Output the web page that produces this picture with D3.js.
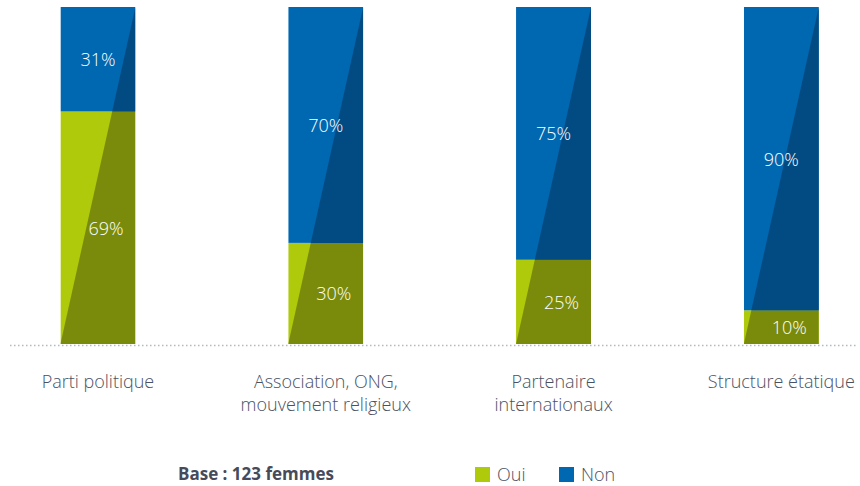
<!DOCTYPE html>
<html>
<head>
<meta charset="utf-8">
<script src="https://cdn.jsdelivr.net/npm/d3@7"></script>
<style>
  html, body { margin: 0; padding: 0; background: #ffffff; }
  svg { display: block; font-family: "Open Sans", "Noto Sans", sans-serif; }
</style>
</head>
<body>
<svg id="chart" width="860" height="486"></svg>
<script>
// Categories (each line of a label is its own entry)
const categories = [
  ["Parti politique"],
  ["Association, ONG,", "mouvement religieux"],
  ["Partenaire", "internationaux"],
  ["Structure étatique"]
];
const oui = [69, 30, 25, 10];
const non = [31, 70, 75, 90];
const seriesNames = ["Oui", "Non"];
const baseNote = "Base : 123 femmes";

const colors = {
  Oui: { light: "#afca0b", dark: "#7a8b0b" },
  Non: { light: "#0067b1", dark: "#014a82" }
};

const svg = d3.select("#chart");
const plotTop = 7, plotBottom = 344;

const x = d3.scaleBand()
  .domain(d3.range(categories.length))
  .range([3.5, 875.8])
  .paddingInner(0.6708)
  .paddingOuter(0.25);

const y = d3.scaleLinear().domain([0, 100]).range([plotBottom, plotTop]);

const rows = categories.map((c, i) => ({ i, oui: oui[i], non: non[i] }));
const stack = d3.stack().keys(["oui", "non"])(rows);

const g = svg.append("g");
const bw = x.bandwidth();

// Clip each bar so the diagonal shade stays inside it
const defs = svg.append("defs");
rows.forEach(r => {
  defs.append("clipPath").attr("id", "clip" + r.i)
    .append("rect")
    .attr("x", x(r.i)).attr("y", y(100))
    .attr("width", bw).attr("height", y(0) - y(100));
});

stack.forEach((layer, li) => {
  const name = seriesNames[li];
  layer.forEach((d, i) => {
    const x0 = x(i), y0 = y(d[1]), h = y(d[0]) - y(d[1]);
    const bar = g.append("g").attr("clip-path", `url(#clip${i})`);
    bar.append("rect")
      .attr("x", x0).attr("y", y0).attr("width", bw).attr("height", h)
      .attr("fill", colors[name].light);
    // Darker part to the right of the bar's diagonal (bottom-left to top-right)
    const yTop = y(100), yBot = y(0);
    const xAt = yy => x0 + bw * (yBot - yy) / (yBot - yTop);
    const ya = y0, yb = y0 + h;
    bar.append("path")
      .attr("d", `M${xAt(ya)},${ya} L${x0 + bw},${ya} L${x0 + bw},${yb} L${xAt(yb)},${yb} Z`)
      .attr("fill", colors[name].dark);
    // Value label
    const val = d[1] - d[0];
    g.append("text")
      .attr("x", x0 + bw / 2 + (name === "Oui" ? 8 : 0))
      .attr("y", y0 + h / 2 + 7)
      .attr("text-anchor", "middle")
      .attr("fill", "#ffffff")
      .attr("font-size", 18)
      .attr("font-weight", 300)
      .text(val + "%");
  });
});

// Dotted baseline
svg.append("line")
  .attr("x1", 10).attr("x2", 858)
  .attr("y1", plotBottom + 1.5).attr("y2", plotBottom + 1.5)
  .attr("stroke", "#b5b8bd").attr("stroke-width", 1.5)
  .attr("stroke-dasharray", "1.5,2.5");

// Category labels
categories.forEach((lines, i) => {
  const t = svg.append("text")
    .attr("x", x(i) + bw / 2)
    .attr("y", 388)
    .attr("text-anchor", "middle")
    .attr("fill", "#4a5163")
    .attr("font-size", 18)
    .attr("font-weight", 300);
  lines.forEach((ln, k) => {
    t.append("tspan").attr("x", x(i) + bw / 2).attr("dy", k === 0 ? 0 : 23).text(ln);
  });
});

// Footer note and legend
svg.append("text")
  .attr("x", 178).attr("y", 480)
  .attr("fill", "#464b5b")
  .attr("font-size", 17)
  .attr("font-weight", 700)
  .text(baseNote);

const legendX = [475, 559];
seriesNames.forEach((n, k) => {
  svg.append("rect")
    .attr("x", legendX[k]).attr("y", 467)
    .attr("width", 15).attr("height", 15)
    .attr("fill", colors[n].light);
  svg.append("text")
    .attr("x", legendX[k] + 22).attr("y", 481)
    .attr("fill", "#4a5163")
    .attr("font-size", 18)
    .attr("font-weight", 300)
    .text(n);
});
</script>
</body>
</html>
